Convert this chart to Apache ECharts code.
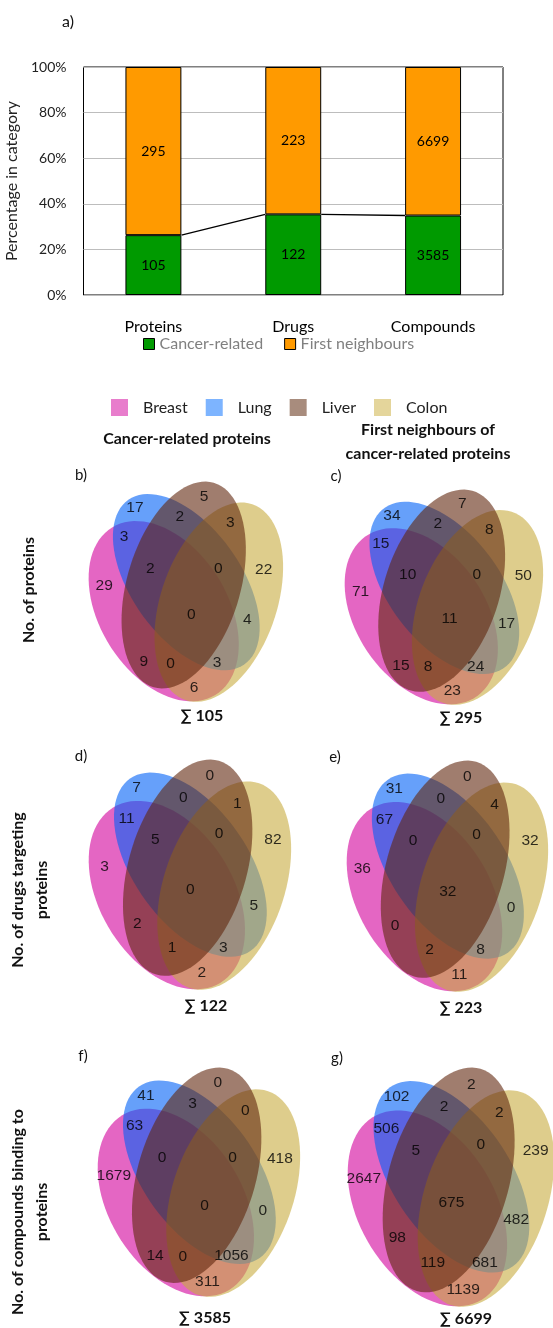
<!DOCTYPE html>
<html>
<head>
<meta charset="utf-8">
<script src="https://cdn.jsdelivr.net/npm/echarts@6/dist/echarts.min.js"></script>
<style>
html, body { margin: 0; padding: 0; background: #fff; }
#main { width: 553px; height: 1328px; }
</style>
</head>
<body>
<div id="main"></div>
<script>
// ---- data ----
var categories = ['Proteins', 'Drugs', 'Compounds'];
var cancerRelated = [105, 122, 3585];
var firstNeighbours = [295, 223, 6699];
var yTicks = [0, 20, 40, 60, 80, 100];

var sets = ['Breast', 'Lung', 'Liver', 'Colon'];
// region order: A, B, C, D, AB, BC, CD, ABC, BCD, ABCD, BD, AC, ACD, ABD, AD
// (A = Breast, B = Lung, C = Liver, D = Colon)
var vennB = [29, 17, 5, 22, 3, 2, 3, 2, 0, 0, 4, 9, 0, 3, 6];
var vennC = [71, 34, 7, 50, 15, 2, 8, 10, 0, 11, 17, 15, 8, 24, 23];
var vennD = [3, 7, 0, 82, 11, 0, 1, 5, 0, 0, 5, 2, 1, 3, 2];
var vennE = [36, 31, 0, 32, 67, 0, 4, 0, 0, 32, 0, 0, 2, 8, 11];
var vennF = [1679, 41, 0, 418, 63, 3, 0, 0, 0, 0, 0, 14, 0, 1056, 311];
var vennG = [2647, 102, 2, 239, 506, 2, 2, 5, 0, 675, 482, 98, 119, 681, 1139];

// ---- layout ----
var FONT = 'Lato';
var NUMFONT = 'Liberation Sans';
var setFill = ['rgba(210,0,155,0.6)', 'rgba(0,97,247,0.6)', 'rgba(97,38,13,0.6)', 'rgba(200,172,63,0.6)'];
var setLegend = ['#e87dcc', '#7db4ff', '#a88c7d', '#e4d59b'];
var drawOrder = [0, 1, 3, 2];

// ellipses in reference units of a 195 x 221 box: cx, cy, a, b, angle(deg)
var BASE_W = 195, BASE_H = 221;
var ellipses = [
  [76.7, 129.8, 98.7, 64, 58.5],
  [99.3, 100.6, 101, 55, 55],
  [96.7, 103.5, 107, 56.7, 106.3],
  [131.8, 120.7, 103.9, 58, 108.8]
];

var layout1 = [[0.088, 0.472], [0.246, 0.119], [0.6, 0.065], [0.906, 0.397], [0.19, 0.25],
  [0.476, 0.156], [0.735, 0.186], [0.325, 0.392], [0.673, 0.393], [0.535, 0.601],
  [0.822, 0.624], [0.291, 0.819], [0.428, 0.824], [0.667, 0.821], [0.549, 0.933]];
var layout2 = [[0.086, 0.465], [0.244, 0.12], [0.605, 0.069], [0.916, 0.347], [0.195, 0.256],
  [0.474, 0.162], [0.741, 0.189], [0.337, 0.346], [0.651, 0.321], [0.509, 0.564],
  [0.822, 0.634], [0.248, 0.712], [0.419, 0.816], [0.671, 0.815], [0.566, 0.926]];

var panels = [
  { counts: vennB, box: [87, 482, 195, 220], layout: layout1, letter: 'b)', lp: [81, 475], sp: [202, 716] },
  { counts: vennC, box: [343, 490, 199, 215], layout: layout1, letter: 'c)', lp: [336, 476], sp: [461, 718] },
  { counts: vennD, box: [87, 760, 203, 230], layout: layout2, letter: 'd)', lp: [81, 756], sp: [206, 1006] },
  { counts: vennE, box: [345, 761, 202, 231], layout: layout2, letter: 'e)', lp: [335, 757], sp: [461, 1008] },
  { counts: vennF, box: [96, 1068, 203, 229], layout: layout1, letter: 'f)', lp: [83, 1056], sp: [205, 1318] },
  { counts: vennG, box: [346, 1068, 207, 239], layout: layout2, letter: 'g)', lp: [337, 1058], sp: [466, 1319] }
];

var cancerPct = cancerRelated.map(function (v, i) { return v / (v + firstNeighbours[i]) * 100; });
var neighPct = cancerPct.map(function (p) { return 100 - p; });

var chartDom = document.getElementById('main');
var myChart = echarts.init(chartDom);

var grids = [{ left: 83.5, top: 67, width: 419.5, height: 228, show: true, borderColor: '#000', borderWidth: 1, outerBoundsMode: 'none' }];
var xAxes = [{
  type: 'category', gridIndex: 0, data: categories,
  axisLine: { show: false }, axisTick: { show: false },
  axisLabel: { margin: 24, fontSize: 16, color: '#000', fontFamily: FONT }
}];
var yAxes = [{
  type: 'value', gridIndex: 0, min: yTicks[0], max: yTicks[yTicks.length - 1], interval: 20,
  name: 'Percentage in category', nameLocation: 'middle', nameGap: 56, nameRotate: 90,
  nameTextStyle: { fontSize: 16, color: '#222', fontFamily: FONT },
  axisLine: { show: false }, axisTick: { show: false },
  axisLabel: { formatter: '{value}%', fontSize: 14, color: '#222', margin: 17, fontFamily: FONT },
  splitLine: { lineStyle: { color: '#bdbdbd', width: 1 } }
}];

var series = [
  {
    name: 'Cancer-related', type: 'bar', stack: 'all', barWidth: '40%',
    data: cancerPct,
    itemStyle: { color: '#009a00', borderColor: '#000', borderWidth: 1 },
    label: { show: true, position: 'inside', color: '#000', fontSize: 14, fontFamily: FONT,
      formatter: function (p) { return cancerRelated[p.dataIndex]; } }
  },
  {
    name: 'First neighbours', type: 'bar', stack: 'all', barWidth: '40%',
    data: neighPct,
    itemStyle: { color: '#ff9a00', borderColor: '#000', borderWidth: 1 },
    label: { show: true, position: 'inside', color: '#000', fontSize: 14, fontFamily: FONT,
      formatter: function (p) { return firstNeighbours[p.dataIndex]; } }
  },
  {
    // series lines joining the tops of the green segments
    type: 'custom', xAxisIndex: 0, yAxisIndex: 0, silent: true, z: 5,
    data: categories.slice(1).map(function (c, i) { return [i, cancerPct[i], cancerPct[i + 1]]; }),
    encode: { x: 0, y: 1 },
    renderItem: function (params, api) {
      var i = api.value(0);
      var p0 = api.coord([i, api.value(1)]);
      var p1 = api.coord([i + 1, api.value(2)]);
      var half = api.size([1, 0])[0] * 0.2;
      return { type: 'line', shape: { x1: p0[0] + half, y1: p0[1], x2: p1[0] - half, y2: p1[1] },
        style: { stroke: '#000', lineWidth: 1.3 } };
    }
  }
];

function ellipseRenderer(k) {
  return function (params, api) {
    var e = ellipses[k];
    var th = e[4] * Math.PI / 180;
    var pts = [];
    for (var n = 0; n < 90; n++) {
      var t = n / 90 * 2 * Math.PI;
      var x = e[0] + e[2] * Math.cos(t) * Math.cos(th) - e[3] * Math.sin(t) * Math.sin(th);
      var y = e[1] + e[2] * Math.cos(t) * Math.sin(th) + e[3] * Math.sin(t) * Math.cos(th);
      pts.push(api.coord([x / BASE_W, y / BASE_H]));
    }
    return { type: 'polygon', shape: { points: pts }, style: { fill: api.visual('color') } };
  };
}

var graphics = [
  { type: 'text', x: 68, y: 22, style: { text: 'a)', font: '16px ' + FONT, fill: '#111', align: 'center', verticalAlign: 'middle' } },
  { type: 'text', x: 187, y: 439, style: { text: 'Cancer-related proteins', font: 'bold 16px ' + FONT, fill: '#111', align: 'center', verticalAlign: 'middle' } },
  { type: 'text', x: 428, y: 442, style: { text: 'First neighbours of\ncancer-related proteins', font: 'bold 16px ' + FONT, lineHeight: 24, fill: '#111', align: 'center', verticalAlign: 'middle' } },
  { type: 'text', x: 29, y: 590, rotation: Math.PI / 2, style: { text: 'No. of proteins', font: 'bold 16px ' + FONT, fill: '#111', align: 'center', verticalAlign: 'middle' } },
  { type: 'text', x: 30, y: 890, rotation: Math.PI / 2, style: { text: 'No. of drugs targeting\nproteins', font: 'bold 16px ' + FONT, lineHeight: 24, fill: '#111', align: 'center', verticalAlign: 'middle' } },
  { type: 'text', x: 29.5, y: 1212, rotation: Math.PI / 2, style: { text: 'No. of compounds binding to\nproteins', font: 'bold 16px ' + FONT, lineHeight: 24, fill: '#111', align: 'center', verticalAlign: 'middle' } }
];

panels.forEach(function (p, pi) {
  var gi = pi + 1;
  grids.push({ left: p.box[0], top: p.box[1], width: p.box[2], height: p.box[3], outerBoundsMode: 'none' });
  xAxes.push({ type: 'value', gridIndex: gi, min: 0, max: 1, show: false });
  yAxes.push({ type: 'value', gridIndex: gi, min: 0, max: 1, inverse: true, show: false });
  drawOrder.forEach(function (k) {
    series.push({
      name: sets[k], type: 'custom', xAxisIndex: gi, yAxisIndex: gi, silent: true, clip: false,
      itemStyle: { color: setFill[k] },
      data: [[0.5, 0.5]],
      renderItem: ellipseRenderer(k)
    });
  });
  series.push({
    type: 'scatter', xAxisIndex: gi, yAxisIndex: gi, silent: true, z: 10,
    symbolSize: 1, itemStyle: { color: 'rgba(0,0,0,0)' },
    data: p.layout.map(function (pos, i) { return [pos[0], pos[1], p.counts[i]]; }),
    label: { show: true, position: 'inside', color: '#000', fontSize: 15.5, fontFamily: NUMFONT,
      formatter: function (q) { return q.value[2]; } }
  });
  var total = p.counts.reduce(function (s, v) { return s + v; }, 0);
  graphics.push({ type: 'text', x: p.lp[0], y: p.lp[1], style: { text: p.letter, font: '15px ' + FONT, fill: '#111', align: 'center', verticalAlign: 'middle' } });
  graphics.push({ type: 'text', x: p.sp[0], y: p.sp[1], style: { text: '\u2211 ' + total, font: 'bold 16px ' + FONT, fill: '#111', align: 'center', verticalAlign: 'middle' } });
});

var option = {
  animation: false,
  backgroundColor: '#fff',
  grid: grids,
  xAxis: xAxes,
  yAxis: yAxes,
  legend: [
    {
      data: ['Cancer-related', 'First neighbours'],
      left: 138, top: 331, icon: 'rect', itemWidth: 11, itemHeight: 11, itemGap: 21,
      itemStyle: { borderColor: '#000', borderWidth: 1 },
      textStyle: { fontSize: 16, color: '#808080', fontFamily: FONT },
      selectedMode: false
    },
    {
      data: sets.map(function (s, i) { return { name: s, itemStyle: { color: setLegend[i] } }; }),
      left: 106, top: 394, icon: 'rect', itemWidth: 17, itemHeight: 17, itemGap: 18,
      textStyle: { fontSize: 16, color: '#222', fontFamily: FONT, width: 45, padding: [0, 0, 0, 10] },
      selectedMode: false
    }
  ],
  graphic: graphics,
  series: series
};

option && myChart.setOption(option);
</script>
</body>
</html>
